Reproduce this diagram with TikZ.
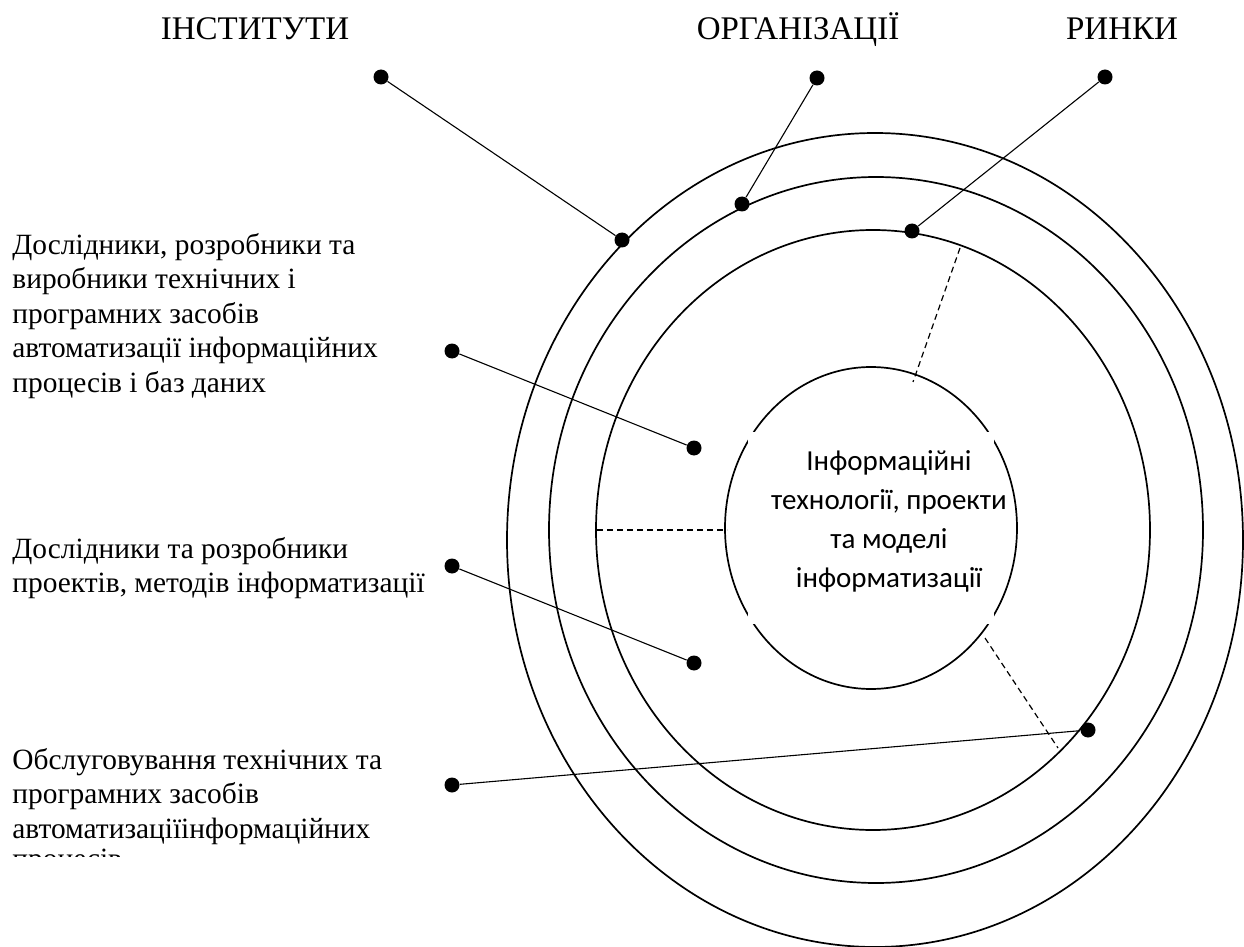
\documentclass[tikz,border=0pt]{standalone}
\usepackage{fontspec}
\setmainfont{Liberation Serif}
\newfontfamily\calibri{Carlito}
\usetikzlibrary{shapes.geometric}
\begin{document}
\begin{tikzpicture}[x=0.5pt,y=-0.5pt,
  ring/.style={draw, ellipse, line width=0.85pt, inner sep=0pt},
  dot/.style={circle, fill=black, inner sep=0pt, minimum size=7.5pt},
  link/.style={line width=0.55pt},
  sep/.style={dash pattern=on 3pt off 2pt, line width=0.6pt},
  lbl/.style={font=\fontsize{14.7}{17.25}\selectfont, inner sep=0pt, align=left, anchor=north west},
  title/.style={font=\fontsize{16.5}{19}\selectfont, inner sep=0pt, anchor=base}
]
\useasboundingbox (0,0) rectangle (1244,947);
% rings
\node[ring, minimum width=368pt, minimum height=407pt] (outer) at (875,540) {};
\node[ring, minimum width=327pt, minimum height=353pt] (middle) at (876,530) {};
\node[ring, minimum width=277pt, minimum height=300pt] (inner) at (873,530) {};
\node[ring, minimum width=146pt, minimum height=161pt] (core) at (871,528) {};
% dashed separators
\coordinate (s1a) at (960,248); \coordinate (s1b) at (913,382);
\coordinate (s2a) at (597,530); \coordinate (s2b) at (727,530);
\coordinate (s3a) at (985,638); \coordinate (s3b) at (1058,748);
\draw[sep] (s1a) -- (s1b);
\draw[sep] (s2a) -- (s2b);
\draw[sep] (s3a) -- (s3b);
% text box of the core
\node[fill=white, inner sep=0pt, minimum width=123pt, minimum height=96pt] (corebox) at (871,528) {};
\node[font=\calibri\fontsize{14.5}{19.5}\selectfont, align=center, inner sep=0pt] (coretext) at (889,521)
  {Інформаційні\\технології, проекти\\та моделі\\інформатизації};
% titles
\node[title] (inst) at (255,40) {ІНСТИТУТИ};
\node[title] (org) at (798,40) {ОРГАНІЗАЦІЇ};
\node[title] (mkt) at (1122,40) {РИНКИ};
% left labels
\node[lbl] (l1) at (12,233) {Дослідники, розробники та\\виробники технічних і\\програмних засобів\\автоматизації інформаційних\\процесів і баз даних};
\node[lbl] (l2) at (12,537) {Дослідники та розробники\\проектів, методів інформатизації};
\begin{scope}
\clip (0,0) rectangle (470,856);
\node[lbl] (l3) at (12,748) {Обслуговування технічних та\\програмних засобів\\автоматизаціїінформаційних\\[-2pt]процесів};
\end{scope}
% dots
\node[dot] (d1) at (381,77) {};
\node[dot] (d1e) at (622,240) {};
\node[dot] (d2) at (817,78) {};
\node[dot] (d2e) at (742,204) {};
\node[dot] (d3) at (1105,77) {};
\node[dot] (d3e) at (912,231) {};
\node[dot] (d4) at (452,351) {};
\node[dot] (d4e) at (694,448) {};
\node[dot] (d5) at (452,566) {};
\node[dot] (d5e) at (694,663) {};
\node[dot] (d6) at (452,785) {};
\node[dot] (d6e) at (1088,730) {};
% connectors
\draw[link] (d1) -- (d1e);
\draw[link] (d2) -- (d2e);
\draw[link] (d3) -- (d3e);
\draw[link] (d4) -- (d4e);
\draw[link] (d5) -- (d5e);
\draw[link] (d6) -- (d6e);
\end{tikzpicture}
\end{document}
